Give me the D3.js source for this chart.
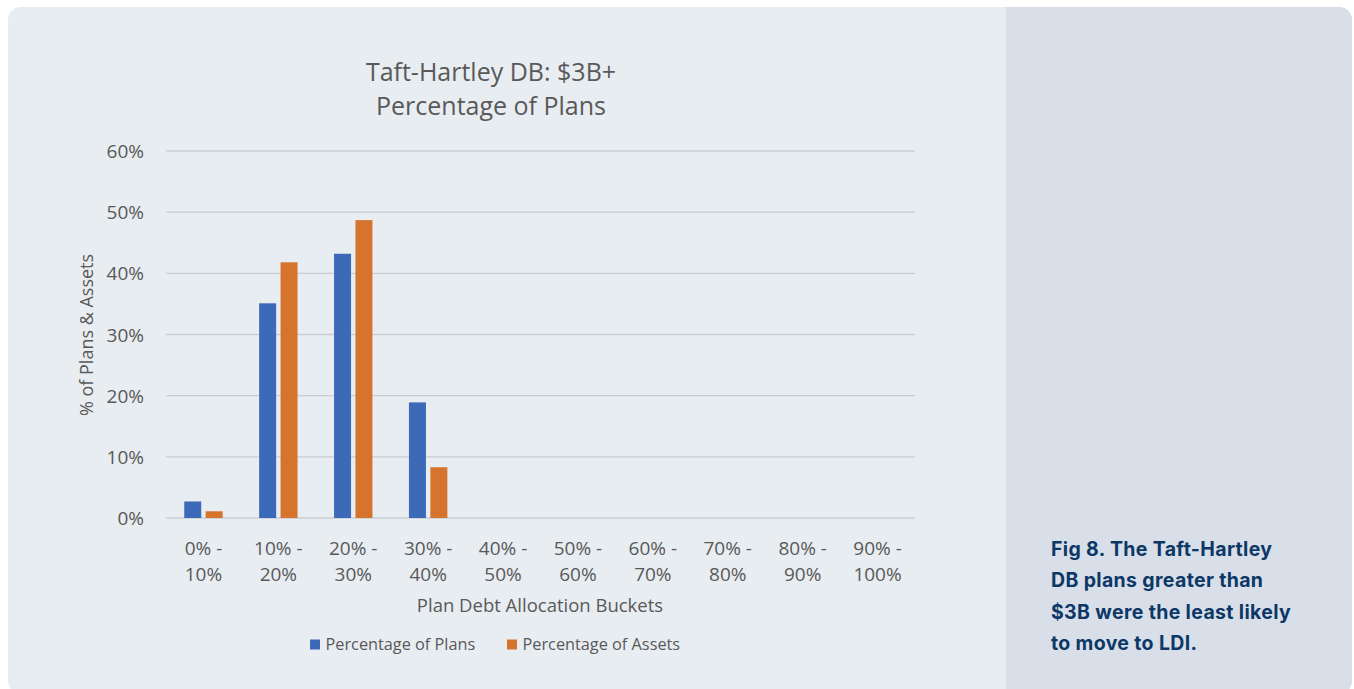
<!DOCTYPE html>
<html><head><meta charset="utf-8">
<script src="https://cdn.jsdelivr.net/npm/d3@7/dist/d3.min.js"></script>
<style>body{margin:0;background:#fff;}svg{display:block;}</style>
</head><body>
<script>
const categories = ["0% - 10%","10% - 20%","20% - 30%","30% - 40%","40% - 50%","50% - 60%","60% - 70%","70% - 80%","80% - 90%","90% - 100%"];
const seriesNames = ["Percentage of Plans","Percentage of Assets"];
const plans = [2.7, 35.1, 43.2, 18.9, 0, 0, 0, 0, 0, 0];
const assets = [1.1, 41.8, 48.7, 8.3, 0, 0, 0, 0, 0, 0];
const yTicks = [0, 10, 20, 30, 40, 50, 60];
const titleLines = ["Taft-Hartley DB: $3B+", "Percentage of Plans"];
const captionLines = ["Fig 8. The Taft-Hartley", "DB plans greater than", "$3B were the least likely", "to move to LDI."];
const colors = ["#3c69b8", "#d6732c"];

const W = 1354, H = 689;
const svg = d3.select("body").append("svg").attr("width", W).attr("height", H);

// card
const clip = svg.append("clipPath").attr("id","card");
clip.append("rect").attr("x",8).attr("y",7).attr("width",1344).attr("height",687).attr("rx",13);
const g0 = svg.append("g").attr("clip-path","url(#card)");
g0.append("rect").attr("x",8).attr("y",7).attr("width",1344).attr("height",687).attr("fill","#e8edf2");
g0.append("rect").attr("x",1006).attr("y",7).attr("width",346).attr("height",687).attr("fill","#d8dfe8");

const FONT = "'Open Sans', sans-serif";
const textCol = "#595959";

const x = d3.scaleBand().domain(categories).range([166, 915]).paddingInner(0).paddingOuter(0);
const y = d3.scaleLinear().domain([0, 60]).range([518, 151]);

// gridlines
svg.append("g").selectAll("line").data(yTicks).join("line")
  .attr("x1",166).attr("x2",915).attr("y1",d=>y(d)).attr("y2",d=>y(d))
  .attr("stroke","#c9ced4").attr("stroke-width",1.3);

// y axis labels
const yAxis = d3.axisLeft(y).tickValues(yTicks).tickFormat(d=>d+"%").tickSize(0).tickPadding(0);
const ya = svg.append("g").attr("transform","translate(144,0)").call(yAxis);
ya.select(".domain").remove();
ya.selectAll("text").attr("font-family",FONT).attr("font-size",19).attr("fill",textCol).attr("dy","0.35em");

// bars
const barW = 17, gap = 4.4;
const series = [plans, assets];
series.forEach((vals, si) => {
  svg.append("g").selectAll("rect").data(vals.map((v,i)=>({v,c:categories[i]})).filter(d=>d.v>0)).join("rect")
    .attr("x", d => x(d.c) + x.bandwidth()/2 + (si===0 ? -(barW + gap/2) : gap/2))
    .attr("width", barW)
    .attr("y", d => y(d.v))
    .attr("height", d => y(0) - y(d.v))
    .attr("fill", colors[si]);
});

// x labels (two lines)
const xl = svg.append("g").selectAll("text").data(categories).join("text")
  .attr("text-anchor","middle").attr("font-family",FONT).attr("font-size",19).attr("fill",textCol);
xl.each(function(d){
  const parts = d.split(" - ");
  const t = d3.select(this);
  const cx = x(d) + x.bandwidth()/2;
  t.append("tspan").attr("x", cx).attr("y",555).text(parts[0] + " -");
  t.append("tspan").attr("x", cx).attr("y",581).text(parts[1]);
});

// title
svg.append("g").selectAll("text").data(titleLines).join("text")
  .attr("x",491).attr("y",(d,i)=>81+i*34).attr("text-anchor","middle")
  .attr("font-family",FONT).attr("font-size",25).attr("fill",textCol).text(d=>d);

// axis titles
svg.append("text").attr("transform","translate(93,335) rotate(-90)").attr("text-anchor","middle")
  .attr("font-family",FONT).attr("font-size",18).attr("fill",textCol).text("% of Plans & Assets");
svg.append("text").attr("x",540).attr("y",612).attr("text-anchor","middle")
  .attr("font-family",FONT).attr("font-size",18.5).attr("fill",textCol).text("Plan Debt Allocation Buckets");

// legend
const legX = [310, 507];
const lg = svg.append("g").selectAll("g").data(seriesNames).join("g")
  .attr("transform",(d,i)=>`translate(${legX[i]},639.5)`);
lg.append("rect").attr("width",10).attr("height",10).attr("fill",(d,i)=>colors[i]);
lg.append("text").attr("x",15.5).attr("y",10).attr("font-family",FONT).attr("font-size",16.3).attr("fill",textCol).text(d=>d);

// caption
svg.append("g").selectAll("text").data(captionLines).join("text")
  .attr("x",1051).attr("y",(d,i)=>556+i*31.4)
  .attr("font-family","Inter, Lato, sans-serif").attr("font-weight",700).attr("font-size",19.5)
  .attr("letter-spacing",0.35)
  .attr("fill","#0d3766").text(d=>d);
</script>
</body></html>
